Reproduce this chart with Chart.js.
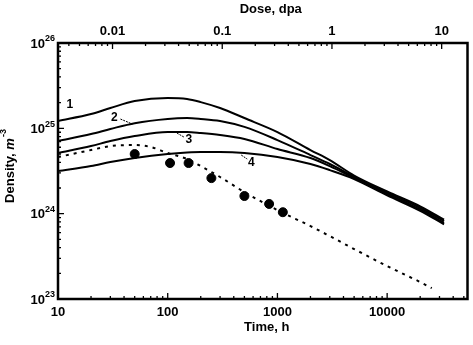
<!DOCTYPE html>
<html>
<head>
<meta charset="utf-8">
<script src="https://cdn.jsdelivr.net/npm/chart.js@4.4.0/dist/chart.umd.min.js"></script>
<style>
  html, body { margin: 0; padding: 0; background: #fff; }
</style>
</head>
<body>
<canvas id="densityChart" width="473" height="345"></canvas>
<script>
// model curves, time in hours, density in m^-3
const timeModel = [10, 20, 30, 50, 100, 150, 200, 300, 500, 1000, 2000, 3000, 5000, 10000, 20000, 33000];
const curve1 = [1.22e25, 1.47e25, 1.73e25, 2.09e25, 2.27e25, 2.21e25, 2.03e25, 1.73e25, 1.32e25, 9.05e24, 5.57e24, 4.25e24, 2.80e24, 1.82e24, 1.22e24, 8.5e23];
const curve2 = [7.10e24, 8.57e24, 9.82e24, 1.15e25, 1.29e25, 1.32e25, 1.29e25, 1.22e25, 1.04e25, 7.29e24, 4.86e24, 3.82e24, 2.70e24, 1.76e24, 1.17e24, 8.2e23];
const curve3 = [5.13e24, 6.20e24, 7.10e24, 8.12e24, 9.05e24, 9.05e24, 8.81e24, 8.35e24, 7.50e24, 5.72e24, 4.49e24, 3.61e24, 2.62e24, 1.70e24, 1.12e24, 7.8e23];
const curve4 = [3.16e24, 3.61e24, 4.03e24, 4.49e24, 5.00e24, 5.20e24, 5.27e24, 5.27e24, 5.13e24, 4.61e24, 3.82e24, 3.24e24, 2.55e24, 1.64e24, 1.08e24, 7.5e23];

// dashed fit curve
const timeDashed = [10, 20, 30, 50, 70, 100, 150, 200, 300, 500, 1000, 2000, 3000, 5000, 10000, 20000, 25500];
const densityDashed = [4.61e24, 5.57e24, 6.20e24, 6.37e24, 6.04e24, 5.13e24, 4.37e24, 3.61e24, 2.69e24, 1.79e24, 1.10e24, 7.16e23, 5.46e23, 3.85e23, 2.43e23, 1.58e23, 1.34e23];

// experimental points
const timeExp = [50, 105, 155, 250, 500, 840, 1120];
const densityExp = [5.0e24, 3.92e24, 3.92e24, 2.61e24, 1.61e24, 1.30e24, 1.04e24];

// axes
const timeTicks = [10, 100, 1000, 10000];
const doseTicks = ['0.01', '0.1', '1', '10'];
const densityExponents = [23, 24, 25, 26];
const hoursPerDpa = 3140;

// curve labels (anchor in data units)
const curveLabels = ['1', '2', '3', '4'];
const labelTimes = [12.8, 32.7, 156, 577];
const labelDensities = [1.87e25, 1.32e25, 7.29e24, 3.92e24];

const FONT = '"Liberation Sans", Arial, sans-serif';

function pts(xs, ys) {
    return xs.map((x, i) => ({ x: x, y: ys[i] }));
}

function solid(data) {
    return {
        data: data,
        showLine: true,
        borderColor: '#000',
        borderWidth: 2,
        pointRadius: 0,
        cubicInterpolationMode: 'monotone',
        fill: false
    };
}

const axesPlugin = {
    id: 'axesPlugin',
    afterDatasetsDraw(chart) {
        const ctx = chart.ctx;
        const a = chart.chartArea;
        const xs = chart.scales.x;
        const ys = chart.scales.y;
        ctx.save();
        ctx.strokeStyle = '#000';
        ctx.fillStyle = '#000';

        // frame
        ctx.lineWidth = 2.5;
        ctx.strokeRect(a.left, a.top, a.right - a.left, a.bottom - a.top);

        ctx.lineWidth = 1.3;
        ctx.beginPath();
        // bottom ticks (time)
        for (let d = 10; d <= 100000; d *= 10) {
            for (let m = 1; m <= 9; m++) {
                const v = d * m;
                if (v < xs.min || v > xs.max) continue;
                const px = xs.getPixelForValue(v);
                const len = m === 1 ? 6 : 3;
                ctx.moveTo(px, a.bottom);
                ctx.lineTo(px, a.bottom - len);
            }
        }
        // top ticks (dose)
        for (let d = 0.001; d <= 100; d *= 10) {
            for (let m = 1; m <= 9; m++) {
                const v = d * m * hoursPerDpa;
                if (v < xs.min || v > xs.max) continue;
                const px = xs.getPixelForValue(v);
                const len = m === 1 ? 6 : 3;
                ctx.moveTo(px, a.top);
                ctx.lineTo(px, a.top + len);
            }
        }
        // left ticks (density)
        for (let e = 23; e <= 25; e++) {
            for (let m = 1; m <= 9; m++) {
                const v = m * Math.pow(10, e);
                const py = ys.getPixelForValue(v);
                const len = m === 1 ? 6 : 3;
                ctx.moveTo(a.left, py);
                ctx.lineTo(a.left + len, py);
            }
        }
        ctx.stroke();

        // tick labels
        ctx.font = 'bold 13px ' + FONT;
        ctx.textAlign = 'center';
        ctx.textBaseline = 'middle';
        timeTicks.forEach(t => {
            ctx.fillText(String(t), xs.getPixelForValue(t), 312);
        });
        doseTicks.forEach(d => {
            ctx.fillText(d, xs.getPixelForValue(parseFloat(d) * hoursPerDpa), 31);
        });
        densityExponents.forEach(e => {
            const py = ys.getPixelForValue(Math.pow(10, e));
            ctx.font = 'bold 13px ' + FONT;
            ctx.textAlign = 'right';
            ctx.fillText('10', a.left - 13, py + 1);
            ctx.font = 'bold 9px ' + FONT;
            ctx.textAlign = 'left';
            ctx.fillText(String(e), a.left - 13, py - 4);
        });

        // axis titles
        ctx.font = 'bold 13px ' + FONT;
        ctx.textAlign = 'center';
        ctx.fillText('Time, h', (a.left + a.right) / 2 + 4, 327);
        ctx.fillText('Dose, dpa', (a.left + a.right) / 2 + 8, 9);

        ctx.save();
        ctx.translate(10, 166);
        ctx.rotate(-Math.PI / 2);
        ctx.textAlign = 'left';
        const t1 = 'Density, ';
        ctx.font = 'bold 13px ' + FONT;
        const w1 = ctx.measureText(t1).width;
        ctx.font = 'bold italic 13px ' + FONT;
        const w2 = ctx.measureText('m').width;
        ctx.font = 'bold 9px ' + FONT;
        const w3 = ctx.measureText('-3').width;
        const start = -(w1 + w2 + w3 + 1) / 2;
        ctx.font = 'bold 13px ' + FONT;
        ctx.fillText(t1, start, 0);
        ctx.font = 'bold italic 13px ' + FONT;
        ctx.fillText('m', start + w1, 0);
        ctx.font = 'bold 9px ' + FONT;
        ctx.fillText('-3', start + w1 + w2 + 1, -6);
        ctx.restore();

        // curve labels with leaders
        ctx.font = 'bold 12px ' + FONT;
        ctx.textAlign = 'center';
        const lp = curveLabels.map((s, i) => ({
            s: s,
            x: xs.getPixelForValue(labelTimes[i]),
            y: ys.getPixelForValue(labelDensities[i])
        }));
        lp.forEach(p => ctx.fillText(p.s, p.x, p.y));
        ctx.lineWidth = 1;
        ctx.setLineDash([2, 1]);
        ctx.beginPath();
        ctx.moveTo(lp[1].x + 6, lp[1].y + 1);
        ctx.lineTo(lp[1].x + 18, lp[1].y + 6);
        ctx.moveTo(lp[2].x - 12, lp[2].y - 7);
        ctx.lineTo(lp[2].x - 5, lp[2].y - 3);
        ctx.moveTo(lp[3].x - 10, lp[3].y - 8);
        ctx.lineTo(lp[3].x - 4, lp[3].y - 4);
        ctx.stroke();
        ctx.restore();
    }
};

new Chart(document.getElementById('densityChart').getContext('2d'), {
    type: 'scatter',
    data: {
        datasets: [
            solid(pts(timeModel, curve1)),
            solid(pts(timeModel, curve2)),
            solid(pts(timeModel, curve3)),
            solid(pts(timeModel, curve4)),
            {
                data: pts(timeDashed, densityDashed),
                showLine: true,
                borderColor: '#000',
                borderWidth: 2,
                borderDash: [3, 5],
                pointRadius: 0,
                cubicInterpolationMode: 'monotone',
                fill: false
            },
            {
                data: pts(timeExp, densityExp),
                showLine: false,
                pointRadius: 4.5,
                pointBackgroundColor: '#000',
                pointBorderColor: '#000'
            }
        ]
    },
    options: {
        responsive: false,
        animation: false,
        layout: { padding: { left: 58, right: 2, top: 43, bottom: 46 } },
        plugins: { legend: { display: false }, tooltip: { enabled: false } },
        scales: {
            x: { type: 'logarithmic', min: 10, max: 54000, display: false },
            y: { type: 'logarithmic', min: 1e23, max: 1e26, display: false }
        }
    },
    plugins: [axesPlugin]
});
</script>
</body>
</html>
